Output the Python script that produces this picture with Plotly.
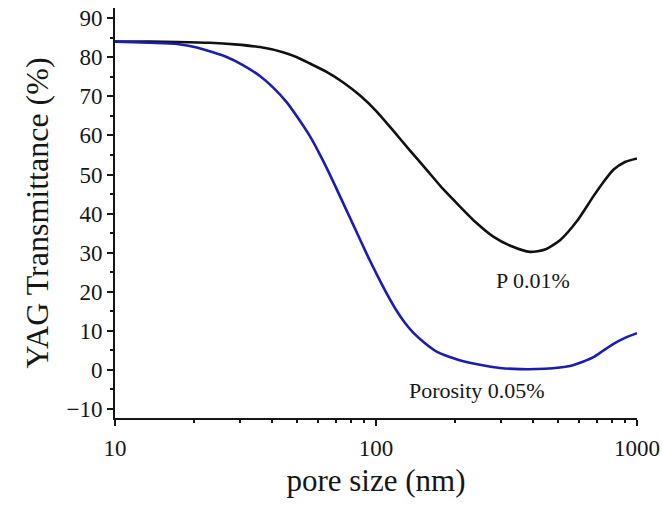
import plotly.graph_objects as go

# Black curve: P 0.01%  (pore size in nm, transmittance in %)
x_p001 = [10, 13.6, 17.3, 23.1, 28.8, 35.9, 44.0, 49.8, 55.8, 64.9, 74.7, 86.9, 100, 116.2, 135.0,
          156.4, 180.6, 209.8, 241.6, 281.4, 329.0, 389.1, 444.1, 507.0, 589.0, 680.2, 740.8, 811.6, 899.5, 1000]
y_p001 = [84.0, 84.0, 83.9, 83.7, 83.3, 82.6, 81.3, 80.0, 78.4, 76.2, 73.6, 70.2, 66.3, 61.3, 56.1,
          51.2, 46.3, 41.8, 37.7, 34.1, 31.7, 30.2, 30.8, 33.2, 38.1, 44.4, 47.9, 51.2, 53.2, 54.1]

# Blue curve: Porosity 0.05%
x_p005 = [10, 13.6, 17.3, 20.6, 26.9, 30.9, 35.9, 40.3, 45.6, 50.2, 55.8, 60.0, 64.9, 68.4, 79.4,
          84.5, 92.4, 100.9, 110.2, 120.3, 129.2, 138.6, 154.1, 171.4, 206.2, 250.2, 298.5, 356.3,
          444.1, 553.4, 620.6, 678.2, 741.3, 809.8, 899.5, 1000]
y_p005 = [84.0, 83.7, 83.4, 82.5, 80.0, 78.0, 75.2, 72.3, 68.4, 64.5, 59.8, 56.0, 51.5, 48.3, 39.0,
          35.1, 29.5, 24.3, 19.4, 15.0, 12.0, 9.6, 6.8, 4.6, 2.6, 1.3, 0.5, 0.2,
          0.3, 1.0, 2.1, 3.2, 4.9, 6.6, 8.2, 9.4]

label_p001 = "P 0.01%"
label_p005 = "Porosity 0.05%"
x_title = "pore size (nm)"
y_title = "YAG Transmittance (%)"

serif = "Liberation Serif, Times New Roman, serif"
ink = "#161616"

fig = go.Figure()
fig.add_trace(go.Scatter(x=x_p001, y=y_p001, mode="lines",
                         line=dict(color="#111111", width=2.6, shape="spline", smoothing=0.6),
                         showlegend=False))
fig.add_trace(go.Scatter(x=x_p005, y=y_p005, mode="lines",
                         line=dict(color="#1c1cb0", width=2.6, shape="spline", smoothing=0.6),
                         showlegend=False))

fig.add_annotation(x=2.6015, y=22.9, xref="x", yref="y", text=label_p001, showarrow=False,
                   font=dict(family=serif, size=22, color=ink))
fig.add_annotation(x=2.387, y=-5.2, xref="x", yref="y", text=label_p005, showarrow=False,
                   font=dict(family=serif, size=22, color=ink))

fig.update_layout(
    width=662, height=506,
    margin=dict(l=115, r=25, t=8, b=88),
    paper_bgcolor="white", plot_bgcolor="white",
    font=dict(family=serif, color=ink),
    showlegend=False,
)
fig.update_xaxes(
    type="log", range=[1, 3], automargin=False,
    tickvals=[10, 100, 1000], ticktext=["10", "100", "1000"],
    ticks="outside", ticklen=6, tickwidth=1.5, tickcolor=ink,
    minor=dict(ticks="outside", ticklen=3, tickwidth=1.5, tickcolor=ink, dtick="D1"),
    showline=True, linecolor=ink, linewidth=2,
    showgrid=False, zeroline=False,
    ticklabelstandoff=2,
    tickfont=dict(family=serif, size=23, color=ink),
    title=dict(text=x_title, font=dict(family=serif, size=31, color=ink), standoff=10),
)
fig.update_yaxes(
    range=[-12.3, 92.6], automargin=False,
    tickvals=[-10, 0, 10, 20, 30, 40, 50, 60, 70, 80, 90],
    ticks="outside", ticklen=6, tickwidth=1.5, tickcolor=ink,
    minor=dict(ticks="outside", ticklen=3, tickwidth=1.5, tickcolor=ink, dtick=5),
    showline=True, linecolor=ink, linewidth=2,
    showgrid=False, zeroline=False,
    tickfont=dict(family=serif, size=23, color=ink),
    title=dict(text=y_title, font=dict(family=serif, size=32, color=ink), standoff=8),
)

fig.write_html("out.html")
